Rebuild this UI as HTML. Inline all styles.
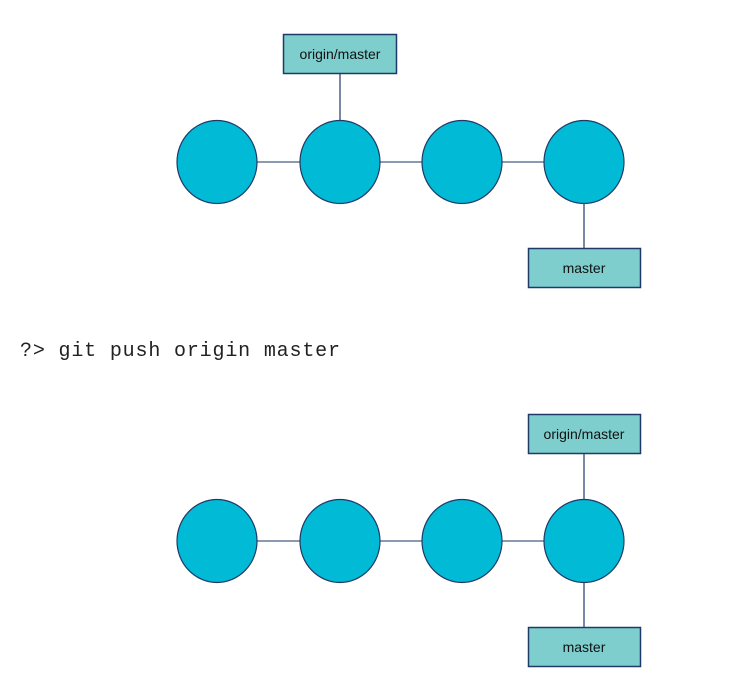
<!DOCTYPE html>
<html><head><meta charset="utf-8"><style>
body{margin:0;background:#fff;width:743px;height:693px;overflow:hidden}
</style></head><body>
<svg width="743" height="693" xmlns="http://www.w3.org/2000/svg" font-family="Liberation Sans, sans-serif">
<g stroke="#8a9ab0" stroke-width="2">
<line x1="217" y1="162" x2="584" y2="162"/>
<line x1="217" y1="541" x2="584" y2="541"/>
</g>
<g stroke="#1f3a68" stroke-width="1.2">
<line x1="340" y1="74" x2="340" y2="122"/>
<line x1="584" y1="204" x2="584" y2="248"/>
<line x1="584" y1="453" x2="584" y2="500"/>
<line x1="584" y1="582" x2="584" y2="627"/>
</g>
<g fill="#00bad6" stroke="#1f3a68" stroke-width="1.2">
<ellipse cx="217" cy="162" rx="40" ry="41.5"/>
<ellipse cx="340" cy="162" rx="40" ry="41.5"/>
<ellipse cx="462" cy="162" rx="40" ry="41.5"/>
<ellipse cx="584" cy="162" rx="40" ry="41.5"/>
<ellipse cx="217" cy="541" rx="40" ry="41.5"/>
<ellipse cx="340" cy="541" rx="40" ry="41.5"/>
<ellipse cx="462" cy="541" rx="40" ry="41.5"/>
<ellipse cx="584" cy="541" rx="40" ry="41.5"/>
</g>
<g fill="#7ecece" stroke="#1f3a68" stroke-width="1.5">
<rect x="283.5" y="34.5" width="113" height="39"/>
<rect x="528.5" y="248.5" width="112" height="39"/>
<rect x="528.5" y="414.5" width="112" height="39"/>
<rect x="528.5" y="627.5" width="112" height="39"/>
</g>
<g font-size="14" fill="#111" text-anchor="middle">
<text x="340" y="59">origin/master</text>
<text x="584" y="273">master</text>
<text x="584" y="439">origin/master</text>
<text x="584" y="652">master</text>
</g>
<text x="20" y="356" font-family="Liberation Mono, monospace" font-size="20" textLength="320" lengthAdjust="spacing" fill="#222">?&gt; git push origin master</text>
</svg>
</body></html>
